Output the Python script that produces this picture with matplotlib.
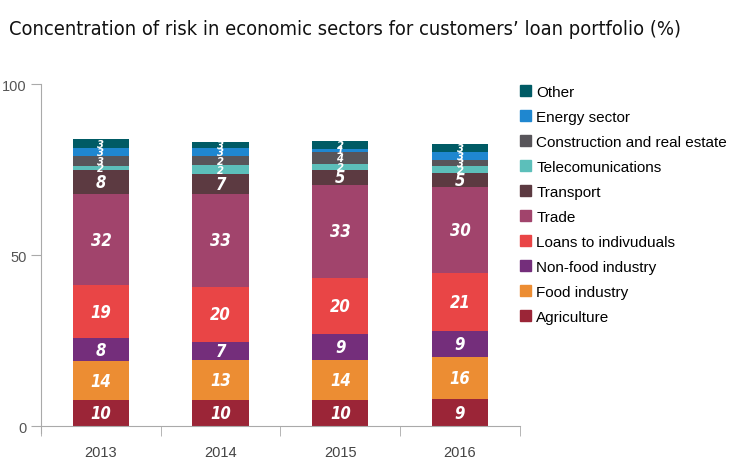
import numpy as np
import matplotlib
matplotlib.use("Agg")
import matplotlib.pyplot as plt
from matplotlib.patches import Patch

years = ['2013', '2014', '2015', '2016']
sectors = ['Agriculture', 'Food industry', 'Non-food industry', 'Loans to indivuduals',
           'Trade', 'Transport', 'Telecomunications', 'Construction and real estate',
           'Energy sector', 'Other']
colors = ['#9b2537', '#ec8d33', '#742e7b', '#e94546', '#a1446c',
          '#5c3a41', '#5cbfba', '#58555a', '#1f87d0', '#005b65']

# bar heights as drawn
heights = {
    'Agriculture':                  [7.6, 7.6, 7.6, 7.9],
    'Food industry':                [11.4, 11.7, 11.7, 12.3],
    'Non-food industry':            [6.7, 5.3, 7.6, 7.6],
    'Loans to indivuduals':         [15.5, 16.1, 16.4, 17.0],
    'Trade':                        [26.6, 27.2, 27.2, 25.1],
    'Transport':                    [7.0, 5.8, 4.4, 4.1],
    'Telecomunications':            [1.2, 2.6, 1.8, 2.0],
    'Construction and real estate': [2.9, 2.6, 3.5, 1.8],
    'Energy sector':                [2.3, 2.3, 0.9, 2.3],
    'Other':                        [2.6, 1.8, 2.3, 2.3],
}
# numbers printed on the segments
labels = {
    'Agriculture':                  [10, 10, 10, 9],
    'Food industry':                [14, 13, 14, 16],
    'Non-food industry':            [8, 7, 9, 9],
    'Loans to indivuduals':         [19, 20, 20, 21],
    'Trade':                        [32, 33, 33, 30],
    'Transport':                    [8, 7, 5, 5],
    'Telecomunications':            [2, 2, 2, 2],
    'Construction and real estate': [3, 2, 4, 3],
    'Energy sector':                [3, 3, 1, 3],
    'Other':                        [3, 3, 2, 3],
}

arial = ['Liberation Sans', 'DejaVu Sans']
fig = plt.figure(figsize=(7.3, 4.6), dpi=100)
ax = fig.add_axes([0.0562, 0.0717, 0.656, 0.7435])

x = np.arange(len(years))
bottom = np.zeros(len(years))
for s, c in zip(sectors, colors):
    h = np.array(heights[s])
    ax.bar(x, h, 0.47, bottom=bottom, color=c, zorder=2)
    for i in range(len(years)):
        ax.text(x[i], bottom[i] + h[i] / 2, str(labels[s][i]), ha='center', va='center',
                color='white', fontsize=12 if h[i] > 4 else 8, fontweight='bold',
                fontstyle='italic', family='DejaVu Sans', fontstretch='condensed', zorder=3)
    bottom += h

ax.set_xlim(-0.5, 3.5)
ax.set_ylim(0, 100)
ax.set_yticks([0, 50, 100])
ax.set_xticks(x)
ax.set_xticklabels(years, family=arial)
ax.set_yticklabels(['0', '50', '100'], family=arial)
ax.set_xticks(np.arange(-0.5, 4, 1), minor=True)
ax.tick_params(axis='x', which='major', length=0, pad=14, labelsize=10.5, labelcolor='#444444')
ax.tick_params(axis='x', which='minor', length=7, color='#aaaaaa', direction='out')
ax.tick_params(axis='y', length=7, color='#aaaaaa', labelsize=10.5, labelcolor='#555555')
for sp in ['top', 'right']:
    ax.spines[sp].set_visible(False)
for sp in ['left', 'bottom']:
    ax.spines[sp].set_color('#aaaaaa')
ax.spines['left'].set_bounds(-2, 100)
ax.spines['left'].set_clip_on(False)

handles = [Patch(color=c, label=s) for s, c in zip(sectors, colors)][::-1]
fig.legend(handles=handles, loc='upper left', bbox_to_anchor=(0.713, 0.813),
           frameon=False, prop={'family': arial, 'size': 11}, handlelength=0.68,
           handleheight=0.68, handletextpad=0.35, labelspacing=0.72,
           borderaxespad=0, borderpad=0)

fig.text(0.012, 0.935, 'Concentration of risk in economic sectors for customers\u2019 loan portfolio (%)',
         fontsize=14.4, family='DejaVu Sans', fontstretch='condensed', va='center', ha='left',
         color='#111111')

fig.savefig('out.png', dpi=100)
